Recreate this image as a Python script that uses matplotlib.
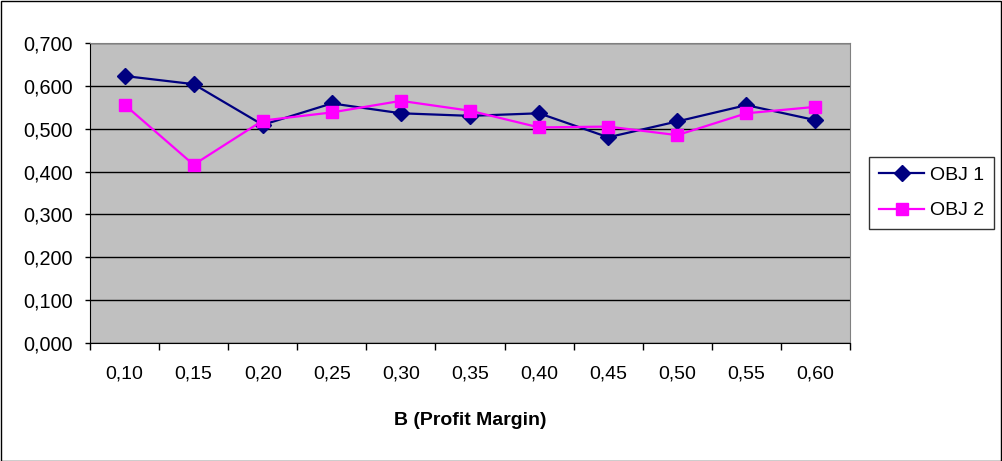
import matplotlib.pyplot as plt
from matplotlib.patches import Rectangle
from matplotlib.ticker import FixedLocator, NullFormatter

plt.rcParams['font.family'] = ['Liberation Sans', 'DejaVu Sans']

categories = ['0,10', '0,15', '0,20', '0,25', '0,30', '0,35', '0,40', '0,45', '0,50', '0,55', '0,60']
obj1 = [0.623, 0.604, 0.509, 0.559, 0.536, 0.530, 0.536, 0.480, 0.517, 0.555, 0.520]
obj2 = [0.556, 0.416, 0.519, 0.538, 0.565, 0.542, 0.503, 0.505, 0.485, 0.536, 0.551]
y_ticks = [0.0, 0.1, 0.2, 0.3, 0.4, 0.5, 0.6, 0.7]
y_labels = ['0,000', '0,100', '0,200', '0,300', '0,400', '0,500', '0,600', '0,700']

fig = plt.figure(figsize=(10.02, 4.61), dpi=100)
ax = fig.add_axes([90 / 1002, 1 - 343 / 461, 760 / 1002, 300 / 461])
ax.set_facecolor('#C0C0C0')

x = list(range(len(categories)))
ax.plot(x, obj1, color='#000080', lw=1.6, marker='D', ms=8, label='OBJ 1', zorder=3)
ax.plot(x, obj2, color='#FF00FF', lw=1.6, marker='s', ms=8, label='OBJ 2', zorder=3)

ax.set_xlim(-0.5, len(categories) - 0.5)
ax.set_ylim(0, 0.7)
ax.set_yticks(y_ticks)
ax.set_yticklabels(y_labels, fontsize=14.3)
ax.yaxis.grid(True, color='black', lw=1)
ax.set_axisbelow(True)

# category labels between tick marks (Excel style)
ax.set_xticks(x)
ax.set_xticklabels(categories, fontsize=14)
ax.tick_params(axis='x', which='major', length=0, pad=16.5)
ax.xaxis.set_minor_locator(FixedLocator([i - 0.5 for i in range(len(categories) + 1)]))
ax.xaxis.set_minor_formatter(NullFormatter())
ax.tick_params(axis='x', which='minor', length=5, width=1, color='black')
ax.tick_params(axis='y', length=3.6, width=1, pad=8.6)

for side in ['top', 'right']:
    ax.spines[side].set_color('#808080')
for side in ['left', 'bottom']:
    ax.spines[side].set_color('black')

ax.set_xlabel('B (Profit Margin)', fontsize=14, fontweight='bold', labelpad=21)

leg = fig.legend(loc='center left', bbox_to_anchor=(869 / 1002, 1 - 193 / 461),
                 fontsize=14, frameon=True, fancybox=False, edgecolor='black',
                 handlelength=2.35, handletextpad=0.3, borderpad=0.5,
                 labelspacing=0.9, borderaxespad=0)
leg.get_frame().set_linewidth(1)

fig.patches.append(Rectangle((0.5 / 1002, 0.5 / 461), 1 - 1.5 / 1002, 1 - 1.5 / 461,
                             transform=fig.transFigure, fill=False, edgecolor='black', lw=1))

fig.savefig('out.png', dpi=100)
